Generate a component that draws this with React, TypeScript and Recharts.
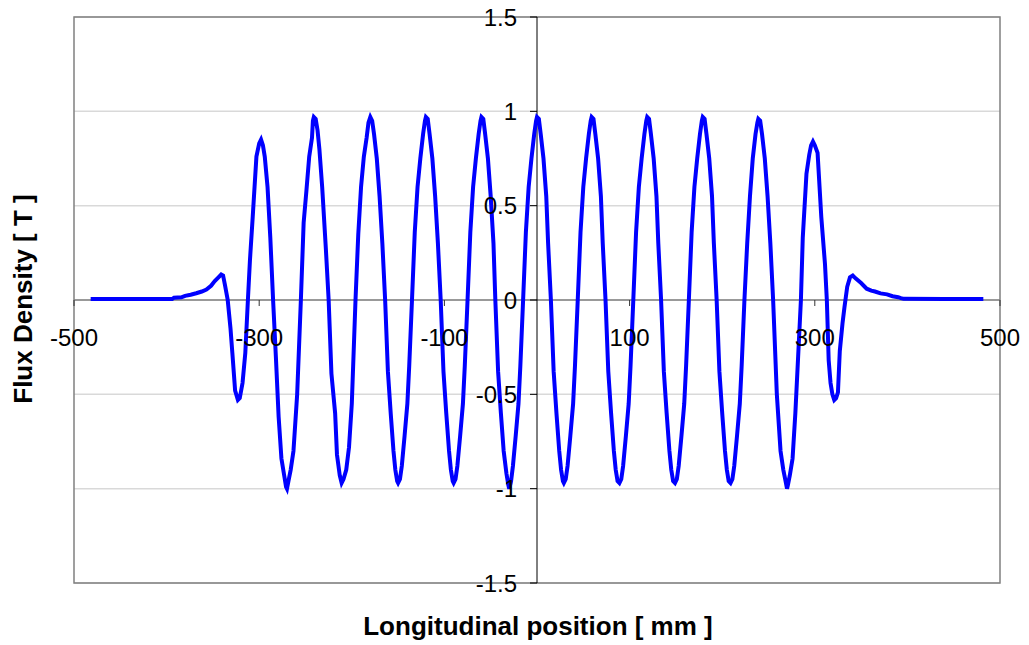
import { LineChart, Line, XAxis, YAxis, CartesianGrid, ReferenceLine, ReferenceArea } from 'recharts'

// Longitudinal flux density profile (mm, T)
const leftTail: [number, number][] = [
  [-482, 0.005], [-440, 0.005], [-394, 0.005], [-392, 0.012], [-384, 0.014], [-380, 0.022],
  [-374, 0.028], [-368, 0.036], [-362, 0.045], [-357, 0.055], [-352, 0.075], [-348, 0.1],
  [-344, 0.12], [-341, 0.135], [-339, 0.13], [-337, 0.08], [-334, 0.0],
]

const leftPoles: [number, number][] = [
  [-331, -0.15], [-329, -0.28], [-326, -0.48], [-323, -0.53], [-321, -0.52], [-318, -0.44], [-315, -0.28], [-312, 0.02],
  [-310, 0.21], [-307, 0.44], [-303, 0.76], [-300, 0.83], [-298, 0.85], [-296, 0.82], [-294, 0.76], [-291, 0.6], [-288, 0.33], [-285, 0.0],
  [-282, -0.3], [-279, -0.62], [-276, -0.84], [-273, -0.93], [-271, -0.99], [-270, -1.0], [-268, -0.95], [-266, -0.9], [-263, -0.8], [-259, -0.5], [-255, 0],
  [-252, 0.41], [-249, 0.58], [-246, 0.76], [-243, 0.86], [-242, 0.95], [-241, 0.97], [-239, 0.96], [-237, 0.9], [-235, 0.8], [-232, 0.6], [-228, 0.27], [-225, 0],
  [-222, -0.39], [-218, -0.6], [-216, -0.82], [-213, -0.93], [-211, -0.97], [-209, -0.95], [-206, -0.9], [-203, -0.78], [-200, -0.55], [-196, 0],
  [-193, 0.35], [-190, 0.6], [-187, 0.76], [-184, 0.86], [-182, 0.94], [-180, 0.97], [-178, 0.95], [-176, 0.88], [-173, 0.75], [-170, 0.55], [-167, 0.3], [-164, 0],
  [-161, -0.38], [-158, -0.6], [-155, -0.8], [-153, -0.9], [-151, -0.96], [-150, -0.97], [-148, -0.95], [-146, -0.88], [-143, -0.72], [-140, -0.55], [-138, -0.35], [-135, 0],
  [-132, 0.36], [-129, 0.6], [-126, 0.75], [-123, 0.88], [-121, 0.95], [-120, 0.97], [-118, 0.96], [-116, 0.88], [-113, 0.75], [-110, 0.55], [-107, 0.3], [-104, 0],
  [-101, -0.38], [-98, -0.6], [-95, -0.8], [-93, -0.9], [-91, -0.96], [-90, -0.97], [-88, -0.95], [-86, -0.88], [-83, -0.72], [-80, -0.55], [-78, -0.35], [-75, 0],
  [-72, 0.36], [-69, 0.6], [-66, 0.75], [-63, 0.88], [-61, 0.95], [-60, 0.97], [-58, 0.96], [-56, 0.88], [-53, 0.75], [-50, 0.55], [-47, 0.3], [-45, 0],
  [-42, -0.38], [-39, -0.6], [-36, -0.8], [-33, -0.92], [-31, -0.98], [-30, -1.0], [-28, -0.96], [-26, -0.88], [-23, -0.72], [-20, -0.55], [-18, -0.35], [-15, 0],
]

const rightPoles: [number, number][] = [
  [-12, 0.36], [-9, 0.6], [-6, 0.75], [-3, 0.88], [-1, 0.95], [0, 0.97], [2, 0.96], [4, 0.88], [7, 0.75], [10, 0.55], [12, 0.3], [15, 0],
  [18, -0.38], [21, -0.6], [24, -0.8], [26, -0.9], [28, -0.96], [29, -0.97], [31, -0.95], [33, -0.88], [36, -0.72], [39, -0.55], [41, -0.35], [44, 0],
  [47, 0.36], [50, 0.6], [53, 0.75], [56, 0.88], [58, 0.95], [59, 0.97], [61, 0.96], [63, 0.88], [66, 0.75], [69, 0.55], [71, 0.3], [74, 0],
  [77, -0.38], [80, -0.6], [83, -0.8], [85, -0.9], [87, -0.96], [89, -0.97], [91, -0.95], [93, -0.88], [96, -0.72], [99, -0.55], [101, -0.35], [104, 0],
  [107, 0.36], [110, 0.6], [113, 0.75], [116, 0.88], [118, 0.95], [119, 0.97], [121, 0.96], [123, 0.88], [126, 0.75], [129, 0.55], [131, 0.3], [134, 0],
  [137, -0.38], [140, -0.6], [143, -0.8], [145, -0.9], [147, -0.96], [149, -0.97], [151, -0.95], [153, -0.88], [156, -0.72], [159, -0.55], [161, -0.35], [164, 0],
  [167, 0.36], [170, 0.6], [173, 0.75], [176, 0.88], [178, 0.95], [179, 0.97], [181, 0.96], [183, 0.88], [186, 0.75], [189, 0.55], [191, 0.3], [194, 0],
  [197, -0.38], [200, -0.6], [203, -0.8], [205, -0.9], [207, -0.96], [209, -0.97], [211, -0.95], [213, -0.88], [216, -0.72], [219, -0.55], [221, -0.35], [224, 0],
  [227, 0.3], [230, 0.55], [233, 0.75], [236, 0.88], [238, 0.94], [239, 0.96], [241, 0.95], [243, 0.88], [246, 0.75], [249, 0.55], [252, 0.3], [255, 0],
  [259, -0.5], [263, -0.8], [266, -0.9], [268, -0.95], [270, -1.0], [271, -0.98], [273, -0.93], [276, -0.84], [279, -0.6], [282, -0.3], [285, 0],
  [287, 0.33], [291, 0.67], [294, 0.77], [296, 0.82], [298, 0.84], [300, 0.82], [303, 0.78], [307, 0.44], [311, 0.19], [313, 0],
  [315, -0.32], [317, -0.44], [319, -0.5], [321, -0.53], [323, -0.52], [325, -0.49], [327, -0.27], [330, -0.12], [332, -0.04],
]

const rightTail: [number, number][] = [
  [335, 0.07], [338, 0.12], [341, 0.13], [344, 0.115], [350, 0.09], [356, 0.06], [361, 0.05], [365, 0.045],
  [371, 0.035], [378, 0.03], [384, 0.02], [390, 0.015], [393, 0.01], [396, 0.006], [440, 0.005], [482, 0.005],
]

const xTicks = [-500, -300, -100, 100, 300, 500]
const yTicks = [-1.5, -1, -0.5, 0, 0.5, 1, 1.5]

const data = [...leftTail, ...leftPoles, ...rightPoles, ...rightTail].map(([x, y]) => ({ x, y }))

// chart box is pulled up over the body margin so the top "1.5" label has room
const W = 1013
const H = 638
const X_AXIS_H = 30
const Y_AXIS_W = 30
const M = { top: 17, right: 21, bottom: 55 - X_AXIS_H, left: 66 - Y_AXIS_W }
const plotLeft = M.left + Y_AXIS_W
const plotW = W - plotLeft - M.right
const plotH = H - M.top - M.bottom - X_AXIS_H
// axes cross in the middle of the plot (both domains symmetric)
const zeroY = M.top + plotH / 2
const zeroX = plotLeft + plotW / 2
const FONT = '"Liberation Sans", Arial, sans-serif'

function XTick({ x, payload }: { x?: number; payload?: { value: number } }) {
  return (
    <g>
      <line x1={x} x2={x} y1={zeroY} y2={zeroY + 6} stroke="#333" />
      <text x={x} y={zeroY + 46} textAnchor="middle" fontSize={24} fontFamily={FONT} fill="#000">
        {payload?.value}
      </text>
    </g>
  )
}

function YTick({ y, payload }: { y?: number; payload?: { value: number } }) {
  return (
    <g>
      <line x1={zeroX - 7} x2={zeroX} y1={y} y2={y} stroke="#000" />
      <text x={zeroX - 20} y={y} dy="0.36em" textAnchor="end" fontSize={24} fontFamily={FONT} fill="#000">
        {payload?.value}
      </text>
    </g>
  )
}

export default function App() {
  return (
    <div style={{ position: 'relative', marginTop: -8, width: W, height: 645 }}>
      <LineChart width={W} height={H} data={data} margin={M}>
        <CartesianGrid vertical={false} stroke="#d9d9d9" strokeWidth={1.5} />
        <ReferenceArea x1={-500} x2={500} y1={-1.5} y2={1.5} fill="none" stroke="#808080" strokeWidth={1.5} />
        <XAxis
          type="number"
          dataKey="x"
          domain={[-500, 500]}
          ticks={xTicks}
          interval={0}
          height={X_AXIS_H}
          axisLine={false}
          tickLine={false}
          tick={<XTick />}
        />
        <YAxis
          type="number"
          domain={[-1.5, 1.5]}
          ticks={yTicks}
          interval={0}
          width={Y_AXIS_W}
          axisLine={false}
          tickLine={false}
          tick={<YTick />}
        />
        <ReferenceLine y={0} stroke="#808080" strokeWidth={1.5} />
        <ReferenceLine x={0} stroke="#000" strokeWidth={1} />
        <Line
          type="linear"
          dataKey="y"
          stroke="#0000ff"
          strokeWidth={4}
          dot={false}
          isAnimationActive={false}
        />
      </LineChart>
      <svg width={W} height={645} style={{ position: 'absolute', left: 0, top: 0, pointerEvents: 'none' }}>
        <text x={530} y={635} textAnchor="middle" fontSize={26} fontWeight="bold" fontFamily={FONT}>
          Longitudinal position [ mm ]
        </text>
        <text transform="translate(24, 299) rotate(-90)" textAnchor="middle" fontSize={26} fontWeight="bold" fontFamily={FONT}>
          Flux Density [ T ]
        </text>
      </svg>
    </div>
  )
}
